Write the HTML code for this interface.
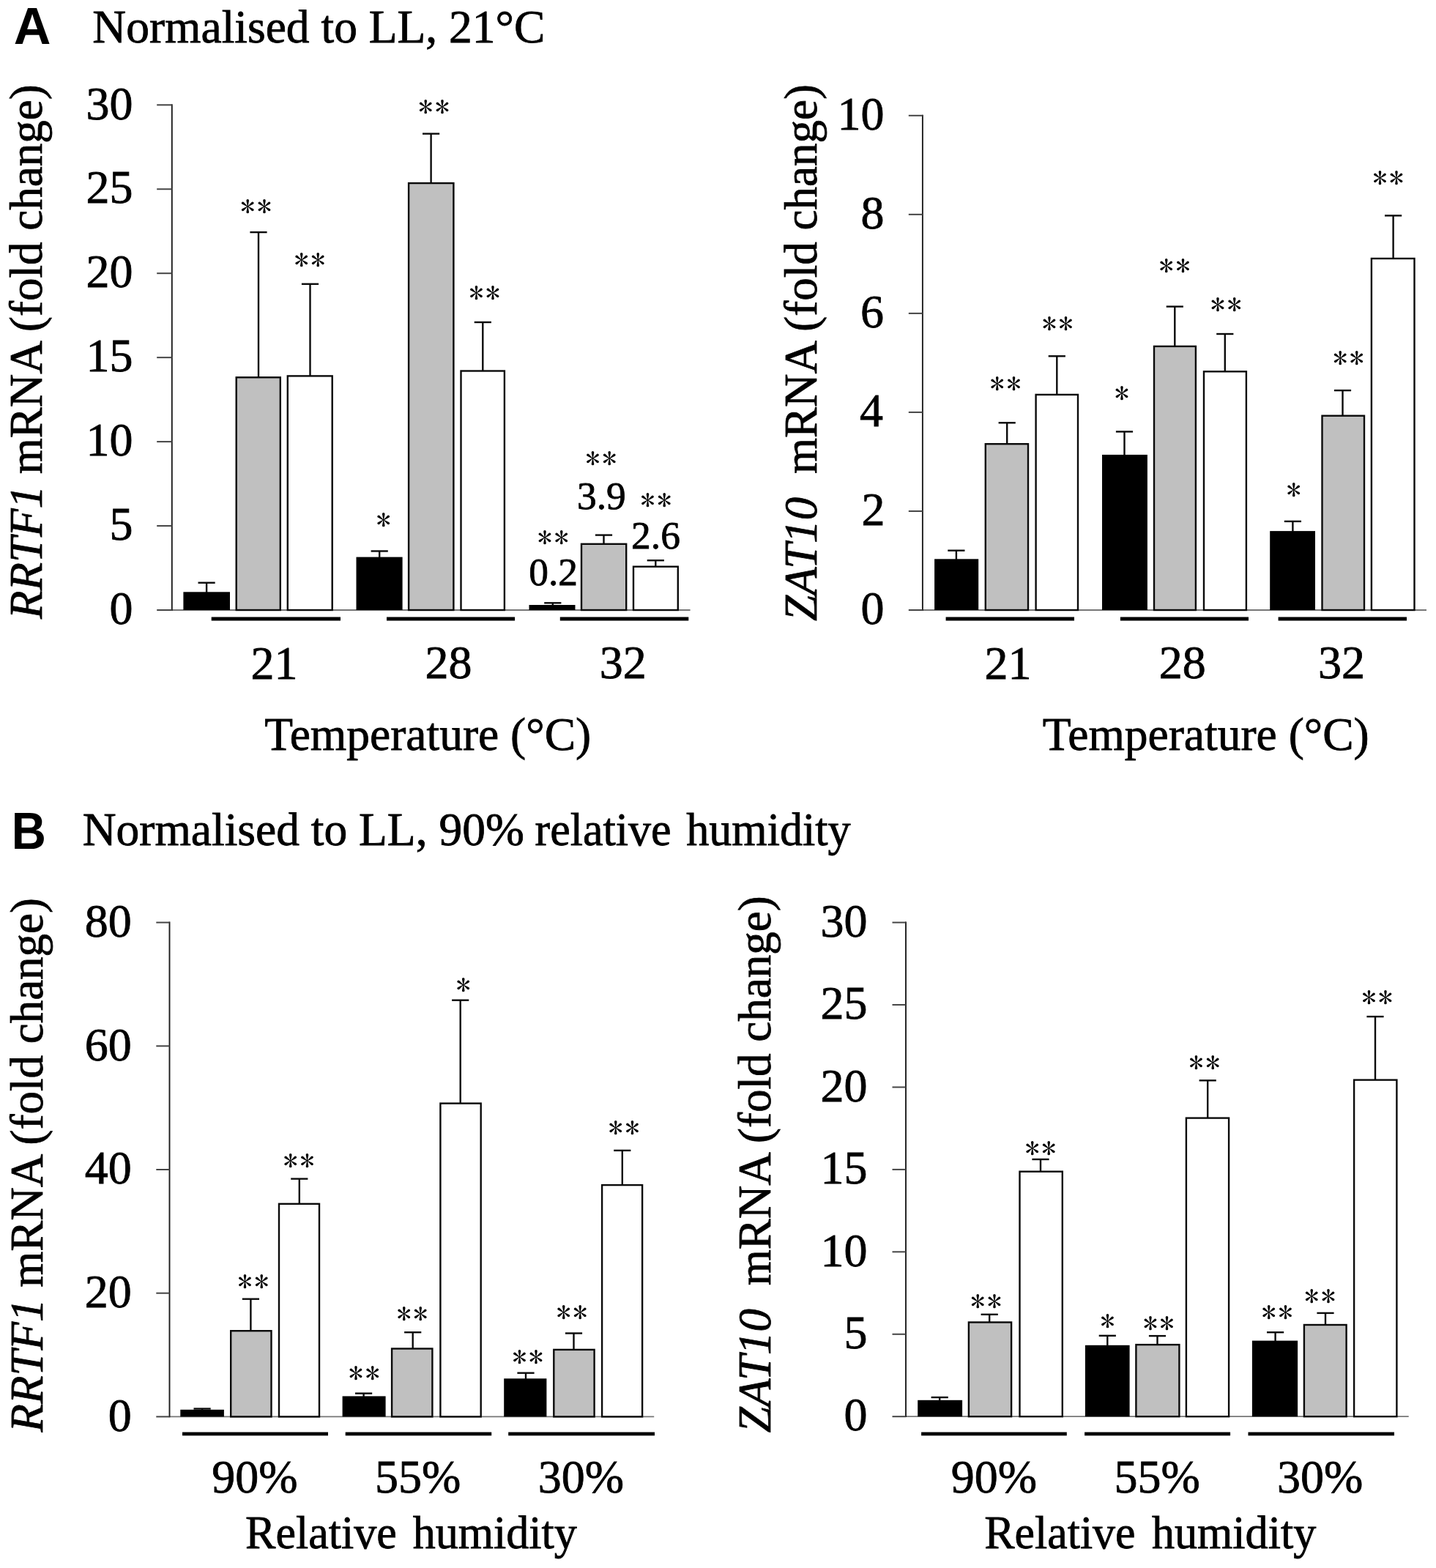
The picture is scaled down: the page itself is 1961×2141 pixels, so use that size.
<!DOCTYPE html>
<html><head><meta charset="utf-8"><title>Figure</title>
<style>
html,body{margin:0;padding:0;background:#fff;overflow:hidden;}
svg{display:block;}
svg text{font-family:"Liberation Serif","Times New Roman",serif;fill:#000;stroke:#000;stroke-width:0.8px;}
</style></head><body>
<svg width="1961" height="2141" viewBox="0 0 1961 2141">
<rect width="1961" height="2141" fill="#fff"/>
<line x1="234.8" y1="833" x2="942.6" y2="833" stroke="#767676" stroke-width="1.8"/>
<rect x="250.4" y="808.3" width="63.6" height="24.7" fill="#000"/>
<rect x="322.7" y="515.3" width="60.1" height="317.7" fill="#c0c0c0" stroke="#0a0a0a" stroke-width="2.4"/>
<rect x="392.8" y="513.4" width="60.9" height="319.6" fill="#fff" stroke="#0a0a0a" stroke-width="2.4"/>
<rect x="486.5" y="760.6" width="63.1" height="72.4" fill="#000"/>
<rect x="558.1" y="250.1" width="61.3" height="582.9" fill="#c0c0c0" stroke="#0a0a0a" stroke-width="2.4"/>
<rect x="629.5" y="506.5" width="59.4" height="326.5" fill="#fff" stroke="#0a0a0a" stroke-width="2.4"/>
<rect x="722.5" y="826" width="63" height="7" fill="#000"/>
<rect x="794" y="742.8" width="61.2" height="90.2" fill="#c0c0c0" stroke="#0a0a0a" stroke-width="2.4"/>
<rect x="865" y="773.7" width="60.8" height="59.3" fill="#fff" stroke="#0a0a0a" stroke-width="2.4"/>
<line x1="282.1" y1="795.7" x2="282.1" y2="809.3" stroke="#0a0a0a" stroke-width="2.4"/>
<line x1="270.5" y1="795.7" x2="293.7" y2="795.7" stroke="#0a0a0a" stroke-width="2.4"/>
<line x1="353" y1="317.1" x2="353" y2="515.1" stroke="#0a0a0a" stroke-width="2.4"/>
<line x1="341.4" y1="317.1" x2="364.6" y2="317.1" stroke="#0a0a0a" stroke-width="2.4"/>
<line x1="423.5" y1="387.8" x2="423.5" y2="513.2" stroke="#0a0a0a" stroke-width="2.4"/>
<line x1="411.9" y1="387.8" x2="435.1" y2="387.8" stroke="#0a0a0a" stroke-width="2.4"/>
<line x1="518.2" y1="752.5" x2="518.2" y2="761.6" stroke="#0a0a0a" stroke-width="2.4"/>
<line x1="506.6" y1="752.5" x2="529.8" y2="752.5" stroke="#0a0a0a" stroke-width="2.4"/>
<line x1="588.6" y1="182.6" x2="588.6" y2="249.9" stroke="#0a0a0a" stroke-width="2.4"/>
<line x1="577" y1="182.6" x2="600.2" y2="182.6" stroke="#0a0a0a" stroke-width="2.4"/>
<line x1="659.3" y1="440" x2="659.3" y2="506.3" stroke="#0a0a0a" stroke-width="2.4"/>
<line x1="647.7" y1="440" x2="670.9" y2="440" stroke="#0a0a0a" stroke-width="2.4"/>
<line x1="754.8" y1="823.3" x2="754.8" y2="827" stroke="#0a0a0a" stroke-width="2.4"/>
<line x1="743.2" y1="823.3" x2="766.4" y2="823.3" stroke="#0a0a0a" stroke-width="2.4"/>
<line x1="824.5" y1="730.6" x2="824.5" y2="742.6" stroke="#0a0a0a" stroke-width="2.4"/>
<line x1="812.9" y1="730.6" x2="836.1" y2="730.6" stroke="#0a0a0a" stroke-width="2.4"/>
<line x1="895.3" y1="765.2" x2="895.3" y2="773.5" stroke="#0a0a0a" stroke-width="2.4"/>
<line x1="883.7" y1="765.2" x2="906.9" y2="765.2" stroke="#0a0a0a" stroke-width="2.4"/>
<line x1="234.8" y1="142.3" x2="234.8" y2="833.9" stroke="#1c1c1c" stroke-width="1.9"/>
<line x1="214.2" y1="143.3" x2="234.8" y2="143.3" stroke="#444" stroke-width="2"/>
<text x="117.43" y="162.5" font-size="64">30</text>
<line x1="214.2" y1="258.25" x2="234.8" y2="258.25" stroke="#444" stroke-width="2"/>
<text x="117.5" y="277.45" font-size="64">25</text>
<line x1="214.2" y1="373.2" x2="234.8" y2="373.2" stroke="#444" stroke-width="2"/>
<text x="117.43" y="392.4" font-size="64">20</text>
<line x1="214.2" y1="488.15" x2="234.8" y2="488.15" stroke="#444" stroke-width="2"/>
<text x="117.5" y="507.35" font-size="64">15</text>
<line x1="214.2" y1="603.1" x2="234.8" y2="603.1" stroke="#444" stroke-width="2"/>
<text x="117.43" y="622.3" font-size="64">10</text>
<line x1="214.2" y1="718.05" x2="234.8" y2="718.05" stroke="#444" stroke-width="2"/>
<text x="149.5" y="737.25" font-size="64">5</text>
<line x1="214.2" y1="833" x2="234.8" y2="833" stroke="#444" stroke-width="2"/>
<text x="149.43" y="852.2" font-size="64">0</text>
<line x1="288.7" y1="845" x2="465" y2="845" stroke="#000" stroke-width="4.8"/>
<line x1="528" y1="845" x2="703.1" y2="845" stroke="#000" stroke-width="4.8"/>
<line x1="764.8" y1="845" x2="940.3" y2="845" stroke="#000" stroke-width="4.8"/>
<text x="342.51" y="926.6" font-size="64">21</text>
<text x="580.46" y="925.96" font-size="64">28</text>
<text x="818.87" y="925.96" font-size="64">32</text>
<text x="361.31" y="1024" font-size="63.5">Temperature (°C)</text>
<text transform="translate(349.6,281.4) scale(1,0.94)" x="-21.33" y="15.2" font-size="40" letter-spacing="2.7" style="font-family:IPAGothic,sans-serif;stroke:none">**</text>
<text transform="translate(423,354.45) scale(1,0.94)" x="-21.33" y="15.2" font-size="40" letter-spacing="2.7" style="font-family:IPAGothic,sans-serif;stroke:none">**</text>
<text transform="translate(523.8,710) scale(1,0.94)" x="-9.98" y="15.2" font-size="40" letter-spacing="0" style="font-family:IPAGothic,sans-serif;stroke:none">*</text>
<text transform="translate(592.55,146.1) scale(1,0.94)" x="-21.33" y="15.2" font-size="40" letter-spacing="2.7" style="font-family:IPAGothic,sans-serif;stroke:none">**</text>
<text transform="translate(661.7,399.8) scale(1,0.94)" x="-21.33" y="15.2" font-size="40" letter-spacing="2.7" style="font-family:IPAGothic,sans-serif;stroke:none">**</text>
<text transform="translate(755.35,733.25) scale(1,0.94)" x="-21.33" y="15.2" font-size="40" letter-spacing="2.7" style="font-family:IPAGothic,sans-serif;stroke:none">**</text>
<text transform="translate(820.85,625.2) scale(1,0.94)" x="-21.33" y="15.2" font-size="40" letter-spacing="2.7" style="font-family:IPAGothic,sans-serif;stroke:none">**</text>
<text transform="translate(895.85,682.85) scale(1,0.94)" x="-21.33" y="15.2" font-size="40" letter-spacing="2.7" style="font-family:IPAGothic,sans-serif;stroke:none">**</text>
<text x="722.23" y="798.65" font-size="53.4">0.2</text>
<text x="788.09" y="694.65" font-size="53.4">3.9</text>
<text x="862.1" y="748.85" font-size="53.4">2.6</text>
<text transform="translate(56.5,844.98) rotate(-90)" font-size="63"><tspan font-style="italic">RRTF1</tspan><tspan> mRNA (fold change)</tspan></text>
<line x1="1259.9" y1="833" x2="1948" y2="833" stroke="#767676" stroke-width="1.8"/>
<rect x="1276.1" y="763.3" width="60.1" height="69.7" fill="#000"/>
<rect x="1345.8" y="606.2" width="58.2" height="226.8" fill="#c0c0c0" stroke="#0a0a0a" stroke-width="2.4"/>
<rect x="1414.6" y="538.9" width="57.4" height="294.1" fill="#fff" stroke="#0a0a0a" stroke-width="2.4"/>
<rect x="1505" y="620.9" width="61.9" height="212.1" fill="#000"/>
<rect x="1576" y="472.9" width="56.9" height="360.1" fill="#c0c0c0" stroke="#0a0a0a" stroke-width="2.4"/>
<rect x="1644" y="507.3" width="57.9" height="325.7" fill="#fff" stroke="#0a0a0a" stroke-width="2.4"/>
<rect x="1734.2" y="725.1" width="61.8" height="107.9" fill="#000"/>
<rect x="1805.5" y="567.7" width="57.5" height="265.3" fill="#c0c0c0" stroke="#0a0a0a" stroke-width="2.4"/>
<rect x="1872.9" y="353" width="58.6" height="480" fill="#fff" stroke="#0a0a0a" stroke-width="2.4"/>
<line x1="1305.9" y1="751.7" x2="1305.9" y2="764.3" stroke="#0a0a0a" stroke-width="2.4"/>
<line x1="1294.3" y1="751.7" x2="1317.5" y2="751.7" stroke="#0a0a0a" stroke-width="2.4"/>
<line x1="1375.2" y1="577.3" x2="1375.2" y2="606" stroke="#0a0a0a" stroke-width="2.4"/>
<line x1="1363.6" y1="577.3" x2="1386.8" y2="577.3" stroke="#0a0a0a" stroke-width="2.4"/>
<line x1="1443.3" y1="486.3" x2="1443.3" y2="538.7" stroke="#0a0a0a" stroke-width="2.4"/>
<line x1="1431.7" y1="486.3" x2="1454.9" y2="486.3" stroke="#0a0a0a" stroke-width="2.4"/>
<line x1="1535.5" y1="589.4" x2="1535.5" y2="621.9" stroke="#0a0a0a" stroke-width="2.4"/>
<line x1="1523.9" y1="589.4" x2="1547.1" y2="589.4" stroke="#0a0a0a" stroke-width="2.4"/>
<line x1="1604.3" y1="418.6" x2="1604.3" y2="472.7" stroke="#0a0a0a" stroke-width="2.4"/>
<line x1="1592.7" y1="418.6" x2="1615.9" y2="418.6" stroke="#0a0a0a" stroke-width="2.4"/>
<line x1="1672.8" y1="456" x2="1672.8" y2="507.1" stroke="#0a0a0a" stroke-width="2.4"/>
<line x1="1661.2" y1="456" x2="1684.4" y2="456" stroke="#0a0a0a" stroke-width="2.4"/>
<line x1="1765.4" y1="711.9" x2="1765.4" y2="726.1" stroke="#0a0a0a" stroke-width="2.4"/>
<line x1="1753.8" y1="711.9" x2="1777" y2="711.9" stroke="#0a0a0a" stroke-width="2.4"/>
<line x1="1833.5" y1="533.1" x2="1833.5" y2="567.5" stroke="#0a0a0a" stroke-width="2.4"/>
<line x1="1821.9" y1="533.1" x2="1845.1" y2="533.1" stroke="#0a0a0a" stroke-width="2.4"/>
<line x1="1902.6" y1="294.4" x2="1902.6" y2="352.8" stroke="#0a0a0a" stroke-width="2.4"/>
<line x1="1891" y1="294.4" x2="1914.2" y2="294.4" stroke="#0a0a0a" stroke-width="2.4"/>
<line x1="1259.9" y1="156.8" x2="1259.9" y2="833.9" stroke="#1c1c1c" stroke-width="1.9"/>
<line x1="1240.8" y1="157.8" x2="1259.9" y2="157.8" stroke="#444" stroke-width="2"/>
<text x="1143.53" y="177" font-size="64">10</text>
<line x1="1240.8" y1="292.84" x2="1259.9" y2="292.84" stroke="#444" stroke-width="2"/>
<text x="1175.53" y="312.04" font-size="64">8</text>
<line x1="1240.8" y1="427.88" x2="1259.9" y2="427.88" stroke="#444" stroke-width="2"/>
<text x="1175.02" y="447.08" font-size="64">6</text>
<line x1="1240.8" y1="562.92" x2="1259.9" y2="562.92" stroke="#444" stroke-width="2"/>
<text x="1174.12" y="582.12" font-size="64">4</text>
<line x1="1240.8" y1="697.96" x2="1259.9" y2="697.96" stroke="#444" stroke-width="2"/>
<text x="1176.62" y="717.16" font-size="64">2</text>
<line x1="1240.8" y1="833" x2="1259.9" y2="833" stroke="#444" stroke-width="2"/>
<text x="1175.53" y="852.2" font-size="64">0</text>
<line x1="1291.6" y1="845" x2="1467" y2="845" stroke="#000" stroke-width="4.8"/>
<line x1="1529.9" y1="845" x2="1705" y2="845" stroke="#000" stroke-width="4.8"/>
<line x1="1745.6" y1="845" x2="1921" y2="845" stroke="#000" stroke-width="4.8"/>
<text x="1344.56" y="926.6" font-size="64">21</text>
<text x="1582.71" y="925.96" font-size="64">28</text>
<text x="1799.92" y="925.96" font-size="64">32</text>
<text x="1423.86" y="1024" font-size="63.5">Temperature (°C)</text>
<text transform="translate(1373.15,523.9) scale(1,0.94)" x="-21.33" y="15.2" font-size="40" letter-spacing="2.7" style="font-family:IPAGothic,sans-serif;stroke:none">**</text>
<text transform="translate(1444.25,441.5) scale(1,0.94)" x="-21.33" y="15.2" font-size="40" letter-spacing="2.7" style="font-family:IPAGothic,sans-serif;stroke:none">**</text>
<text transform="translate(1531.9,536.5) scale(1,0.94)" x="-9.98" y="15.2" font-size="40" letter-spacing="0" style="font-family:IPAGothic,sans-serif;stroke:none">*</text>
<text transform="translate(1604.05,362.9) scale(1,0.94)" x="-21.33" y="15.2" font-size="40" letter-spacing="2.7" style="font-family:IPAGothic,sans-serif;stroke:none">**</text>
<text transform="translate(1674.3,416.1) scale(1,0.94)" x="-21.33" y="15.2" font-size="40" letter-spacing="2.7" style="font-family:IPAGothic,sans-serif;stroke:none">**</text>
<text transform="translate(1766.7,669.1) scale(1,0.94)" x="-9.98" y="15.2" font-size="40" letter-spacing="0" style="font-family:IPAGothic,sans-serif;stroke:none">*</text>
<text transform="translate(1841.45,488.85) scale(1,0.94)" x="-21.33" y="15.2" font-size="40" letter-spacing="2.7" style="font-family:IPAGothic,sans-serif;stroke:none">**</text>
<text transform="translate(1895.7,242.8) scale(1,0.94)" x="-21.33" y="15.2" font-size="40" letter-spacing="2.7" style="font-family:IPAGothic,sans-serif;stroke:none">**</text>
<text transform="translate(1115.3,847.96) rotate(-90)" font-size="63"><tspan font-style="italic">ZAT10</tspan><tspan dx="16"> mRNA (fold change)</tspan></text>
<line x1="231.5" y1="1934.4" x2="893.2" y2="1934.4" stroke="#767676" stroke-width="1.8"/>
<rect x="246.3" y="1924.8" width="59.6" height="9.6" fill="#000"/>
<rect x="315.2" y="1817.2" width="55.3" height="117.2" fill="#c0c0c0" stroke="#0a0a0a" stroke-width="2.4"/>
<rect x="381" y="1643.8" width="55" height="290.6" fill="#fff" stroke="#0a0a0a" stroke-width="2.4"/>
<rect x="467.6" y="1906.4" width="59" height="28" fill="#000"/>
<rect x="535.1" y="1841.5" width="55.3" height="92.9" fill="#c0c0c0" stroke="#0a0a0a" stroke-width="2.4"/>
<rect x="601.4" y="1506.6" width="55.3" height="427.8" fill="#fff" stroke="#0a0a0a" stroke-width="2.4"/>
<rect x="688.2" y="1882.3" width="58.2" height="52.1" fill="#000"/>
<rect x="756.3" y="1842.9" width="55.3" height="91.5" fill="#c0c0c0" stroke="#0a0a0a" stroke-width="2.4"/>
<rect x="822.1" y="1618.1" width="55" height="316.3" fill="#fff" stroke="#0a0a0a" stroke-width="2.4"/>
<line x1="276.1" y1="1923.5" x2="276.1" y2="1925.8" stroke="#0a0a0a" stroke-width="2.4"/>
<line x1="264.5" y1="1923.5" x2="287.7" y2="1923.5" stroke="#0a0a0a" stroke-width="2.4"/>
<line x1="342.4" y1="1773.7" x2="342.4" y2="1817" stroke="#0a0a0a" stroke-width="2.4"/>
<line x1="330.8" y1="1773.7" x2="354" y2="1773.7" stroke="#0a0a0a" stroke-width="2.4"/>
<line x1="408.8" y1="1609.6" x2="408.8" y2="1643.6" stroke="#0a0a0a" stroke-width="2.4"/>
<line x1="397.2" y1="1609.6" x2="420.4" y2="1609.6" stroke="#0a0a0a" stroke-width="2.4"/>
<line x1="496.6" y1="1902.6" x2="496.6" y2="1907.4" stroke="#0a0a0a" stroke-width="2.4"/>
<line x1="485" y1="1902.6" x2="508.2" y2="1902.6" stroke="#0a0a0a" stroke-width="2.4"/>
<line x1="563.7" y1="1819.2" x2="563.7" y2="1841.3" stroke="#0a0a0a" stroke-width="2.4"/>
<line x1="552.1" y1="1819.2" x2="575.3" y2="1819.2" stroke="#0a0a0a" stroke-width="2.4"/>
<line x1="628.7" y1="1365.7" x2="628.7" y2="1506.4" stroke="#0a0a0a" stroke-width="2.4"/>
<line x1="617.1" y1="1365.7" x2="640.3" y2="1365.7" stroke="#0a0a0a" stroke-width="2.4"/>
<line x1="718" y1="1874.7" x2="718" y2="1883.3" stroke="#0a0a0a" stroke-width="2.4"/>
<line x1="706.4" y1="1874.7" x2="729.6" y2="1874.7" stroke="#0a0a0a" stroke-width="2.4"/>
<line x1="783.5" y1="1820.5" x2="783.5" y2="1842.7" stroke="#0a0a0a" stroke-width="2.4"/>
<line x1="771.9" y1="1820.5" x2="795.1" y2="1820.5" stroke="#0a0a0a" stroke-width="2.4"/>
<line x1="849.8" y1="1570.9" x2="849.8" y2="1617.9" stroke="#0a0a0a" stroke-width="2.4"/>
<line x1="838.2" y1="1570.9" x2="861.4" y2="1570.9" stroke="#0a0a0a" stroke-width="2.4"/>
<line x1="231.5" y1="1258.6" x2="231.5" y2="1935.3" stroke="#1c1c1c" stroke-width="1.9"/>
<line x1="213.3" y1="1259.6" x2="231.5" y2="1259.6" stroke="#444" stroke-width="2"/>
<text x="115.73" y="1278.8" font-size="64">80</text>
<line x1="213.3" y1="1428.3" x2="231.5" y2="1428.3" stroke="#444" stroke-width="2"/>
<text x="115.73" y="1447.5" font-size="64">60</text>
<line x1="213.3" y1="1597" x2="231.5" y2="1597" stroke="#444" stroke-width="2"/>
<text x="115.73" y="1616.2" font-size="64">40</text>
<line x1="213.3" y1="1765.7" x2="231.5" y2="1765.7" stroke="#444" stroke-width="2"/>
<text x="115.73" y="1784.9" font-size="64">20</text>
<line x1="213.3" y1="1934.4" x2="231.5" y2="1934.4" stroke="#444" stroke-width="2"/>
<text x="147.73" y="1953.6" font-size="64">0</text>
<line x1="249" y1="1957.8" x2="448" y2="1957.8" stroke="#000" stroke-width="4.8"/>
<line x1="471.7" y1="1957.8" x2="671.2" y2="1957.8" stroke="#000" stroke-width="4.8"/>
<line x1="694.2" y1="1957.8" x2="894" y2="1957.8" stroke="#000" stroke-width="4.8"/>
<text x="289.16" y="2038.47" font-size="64">90%</text>
<text x="512.03" y="2038.47" font-size="64">55%</text>
<text x="734.7" y="2038.47" font-size="64">30%</text>
<text transform="translate(335.1,2113.9) scale(0.9768,1)" font-size="63.5">Relative</text>
<text transform="translate(563.68,2113.9) scale(0.9772,1)" font-size="63.5">humidity</text>
<text transform="translate(345.85,1749.5) scale(1,0.94)" x="-21.33" y="15.2" font-size="40" letter-spacing="2.7" style="font-family:IPAGothic,sans-serif;stroke:none">**</text>
<text transform="translate(408.1,1584.7) scale(1,0.94)" x="-21.33" y="15.2" font-size="40" letter-spacing="2.7" style="font-family:IPAGothic,sans-serif;stroke:none">**</text>
<text transform="translate(497.4,1874.4) scale(1,0.94)" x="-21.33" y="15.2" font-size="40" letter-spacing="2.7" style="font-family:IPAGothic,sans-serif;stroke:none">**</text>
<text transform="translate(563,1793.5) scale(1,0.94)" x="-21.33" y="15.2" font-size="40" letter-spacing="2.7" style="font-family:IPAGothic,sans-serif;stroke:none">**</text>
<text transform="translate(632.75,1344.45) scale(1,0.94)" x="-9.98" y="15.2" font-size="40" letter-spacing="0" style="font-family:IPAGothic,sans-serif;stroke:none">*</text>
<text transform="translate(720.75,1853.05) scale(1,0.94)" x="-21.33" y="15.2" font-size="40" letter-spacing="2.7" style="font-family:IPAGothic,sans-serif;stroke:none">**</text>
<text transform="translate(780.95,1792.1) scale(1,0.94)" x="-21.33" y="15.2" font-size="40" letter-spacing="2.7" style="font-family:IPAGothic,sans-serif;stroke:none">**</text>
<text transform="translate(852.15,1539.35) scale(1,0.94)" x="-21.33" y="15.2" font-size="40" letter-spacing="2.7" style="font-family:IPAGothic,sans-serif;stroke:none">**</text>
<text transform="translate(57.5,1955.59) rotate(-90)" font-size="63"><tspan font-style="italic">RRTF1</tspan><tspan> mRNA (fold change)</tspan></text>
<line x1="1237" y1="1934.2" x2="1923.7" y2="1934.2" stroke="#767676" stroke-width="1.8"/>
<rect x="1253.2" y="1911.8" width="60.9" height="22.4" fill="#000"/>
<rect x="1322.9" y="1805.5" width="58.2" height="128.7" fill="#c0c0c0" stroke="#0a0a0a" stroke-width="2.4"/>
<rect x="1392.5" y="1599.7" width="58.3" height="334.5" fill="#fff" stroke="#0a0a0a" stroke-width="2.4"/>
<rect x="1481.9" y="1836.8" width="60.7" height="97.4" fill="#000"/>
<rect x="1551.4" y="1836.1" width="59" height="98.1" fill="#c0c0c0" stroke="#0a0a0a" stroke-width="2.4"/>
<rect x="1619.9" y="1526.6" width="58.2" height="407.6" fill="#fff" stroke="#0a0a0a" stroke-width="2.4"/>
<rect x="1709.9" y="1830.6" width="62.2" height="103.6" fill="#000"/>
<rect x="1780.9" y="1809" width="57.7" height="125.2" fill="#c0c0c0" stroke="#0a0a0a" stroke-width="2.4"/>
<rect x="1849.1" y="1474.6" width="58.3" height="459.6" fill="#fff" stroke="#0a0a0a" stroke-width="2.4"/>
<line x1="1283.2" y1="1908" x2="1283.2" y2="1912.8" stroke="#0a0a0a" stroke-width="2.4"/>
<line x1="1271.6" y1="1908" x2="1294.8" y2="1908" stroke="#0a0a0a" stroke-width="2.4"/>
<line x1="1351.2" y1="1794.8" x2="1351.2" y2="1805.3" stroke="#0a0a0a" stroke-width="2.4"/>
<line x1="1339.6" y1="1794.8" x2="1362.8" y2="1794.8" stroke="#0a0a0a" stroke-width="2.4"/>
<line x1="1421" y1="1583" x2="1421" y2="1599.5" stroke="#0a0a0a" stroke-width="2.4"/>
<line x1="1409.4" y1="1583" x2="1432.6" y2="1583" stroke="#0a0a0a" stroke-width="2.4"/>
<line x1="1512.3" y1="1823.8" x2="1512.3" y2="1837.8" stroke="#0a0a0a" stroke-width="2.4"/>
<line x1="1500.7" y1="1823.8" x2="1523.9" y2="1823.8" stroke="#0a0a0a" stroke-width="2.4"/>
<line x1="1580.5" y1="1824.1" x2="1580.5" y2="1835.9" stroke="#0a0a0a" stroke-width="2.4"/>
<line x1="1568.9" y1="1824.1" x2="1592.1" y2="1824.1" stroke="#0a0a0a" stroke-width="2.4"/>
<line x1="1649.2" y1="1475.3" x2="1649.2" y2="1526.4" stroke="#0a0a0a" stroke-width="2.4"/>
<line x1="1637.6" y1="1475.3" x2="1660.8" y2="1475.3" stroke="#0a0a0a" stroke-width="2.4"/>
<line x1="1741.6" y1="1819.2" x2="1741.6" y2="1831.6" stroke="#0a0a0a" stroke-width="2.4"/>
<line x1="1730" y1="1819.2" x2="1753.2" y2="1819.2" stroke="#0a0a0a" stroke-width="2.4"/>
<line x1="1810" y1="1792.9" x2="1810" y2="1808.8" stroke="#0a0a0a" stroke-width="2.4"/>
<line x1="1798.4" y1="1792.9" x2="1821.6" y2="1792.9" stroke="#0a0a0a" stroke-width="2.4"/>
<line x1="1878" y1="1388.1" x2="1878" y2="1474.4" stroke="#0a0a0a" stroke-width="2.4"/>
<line x1="1866.4" y1="1388.1" x2="1889.6" y2="1388.1" stroke="#0a0a0a" stroke-width="2.4"/>
<line x1="1237" y1="1258.6" x2="1237" y2="1935.1" stroke="#1c1c1c" stroke-width="1.9"/>
<line x1="1218.5" y1="1259.6" x2="1237" y2="1259.6" stroke="#444" stroke-width="2"/>
<text x="1120.43" y="1278.8" font-size="64">30</text>
<line x1="1218.5" y1="1372.03" x2="1237" y2="1372.03" stroke="#444" stroke-width="2"/>
<text x="1120.5" y="1391.23" font-size="64">25</text>
<line x1="1218.5" y1="1484.47" x2="1237" y2="1484.47" stroke="#444" stroke-width="2"/>
<text x="1120.43" y="1503.67" font-size="64">20</text>
<line x1="1218.5" y1="1596.9" x2="1237" y2="1596.9" stroke="#444" stroke-width="2"/>
<text x="1120.5" y="1616.1" font-size="64">15</text>
<line x1="1218.5" y1="1709.33" x2="1237" y2="1709.33" stroke="#444" stroke-width="2"/>
<text x="1120.43" y="1728.53" font-size="64">10</text>
<line x1="1218.5" y1="1821.77" x2="1237" y2="1821.77" stroke="#444" stroke-width="2"/>
<text x="1152.5" y="1840.97" font-size="64">5</text>
<line x1="1218.5" y1="1934.2" x2="1237" y2="1934.2" stroke="#444" stroke-width="2"/>
<text x="1152.43" y="1953.4" font-size="64">0</text>
<line x1="1258.1" y1="1957.8" x2="1456.8" y2="1957.8" stroke="#000" stroke-width="4.8"/>
<line x1="1481.1" y1="1957.8" x2="1680.1" y2="1957.8" stroke="#000" stroke-width="4.8"/>
<line x1="1704.5" y1="1957.8" x2="1904" y2="1957.8" stroke="#000" stroke-width="4.8"/>
<text x="1298.71" y="2038.47" font-size="64">90%</text>
<text x="1521.48" y="2038.47" font-size="64">55%</text>
<text x="1744.05" y="2038.47" font-size="64">30%</text>
<text transform="translate(1344.31,2113.9) scale(0.9744,1)" font-size="63.5">Relative</text>
<text transform="translate(1572.88,2113.9) scale(0.9785,1)" font-size="63.5">humidity</text>
<text transform="translate(1346.6,1776.85) scale(1,0.94)" x="-21.33" y="15.2" font-size="40" letter-spacing="2.7" style="font-family:IPAGothic,sans-serif;stroke:none">**</text>
<text transform="translate(1421,1568.15) scale(1,0.94)" x="-21.33" y="15.2" font-size="40" letter-spacing="2.7" style="font-family:IPAGothic,sans-serif;stroke:none">**</text>
<text transform="translate(1512.5,1803.35) scale(1,0.94)" x="-9.98" y="15.2" font-size="40" letter-spacing="0" style="font-family:IPAGothic,sans-serif;stroke:none">*</text>
<text transform="translate(1582.2,1806.3) scale(1,0.94)" x="-21.33" y="15.2" font-size="40" letter-spacing="2.7" style="font-family:IPAGothic,sans-serif;stroke:none">**</text>
<text transform="translate(1644.9,1450.5) scale(1,0.94)" x="-21.33" y="15.2" font-size="40" letter-spacing="2.7" style="font-family:IPAGothic,sans-serif;stroke:none">**</text>
<text transform="translate(1744.1,1791.7) scale(1,0.94)" x="-21.33" y="15.2" font-size="40" letter-spacing="2.7" style="font-family:IPAGothic,sans-serif;stroke:none">**</text>
<text transform="translate(1802.6,1769.8) scale(1,0.94)" x="-21.33" y="15.2" font-size="40" letter-spacing="2.7" style="font-family:IPAGothic,sans-serif;stroke:none">**</text>
<text transform="translate(1880.7,1361.2) scale(1,0.94)" x="-21.33" y="15.2" font-size="40" letter-spacing="2.7" style="font-family:IPAGothic,sans-serif;stroke:none">**</text>
<text transform="translate(1051.5,1956.16) rotate(-90)" font-size="63"><tspan font-style="italic">ZAT10</tspan><tspan dx="16"> mRNA (fold change)</tspan></text>
<text transform="translate(20.6,59.6) scale(1.0,1)" x="-1.76" y="0" style="font-family:Liberation Sans,Arial,sans-serif;font-weight:bold;stroke:none" font-size="70.2">A</text>
<text transform="translate(20.1,1159.1) scale(0.93,1)" x="-4.7" y="0" style="font-family:Liberation Sans,Arial,sans-serif;font-weight:bold;stroke:none" font-size="70.2">B</text>
<text x="126.36" y="58" font-size="63.5">Normalised to LL, 21°C</text>
<text x="112.66" y="1154.1" font-size="63.5">Normalised to LL, 90%</text>
<text transform="translate(730.46,1154.1) scale(0.9776,1)" font-size="63.5">relative</text>
<text transform="translate(937.18,1154.1) scale(0.9785,1)" font-size="63.5">humidity</text>
</svg>
</body></html>
